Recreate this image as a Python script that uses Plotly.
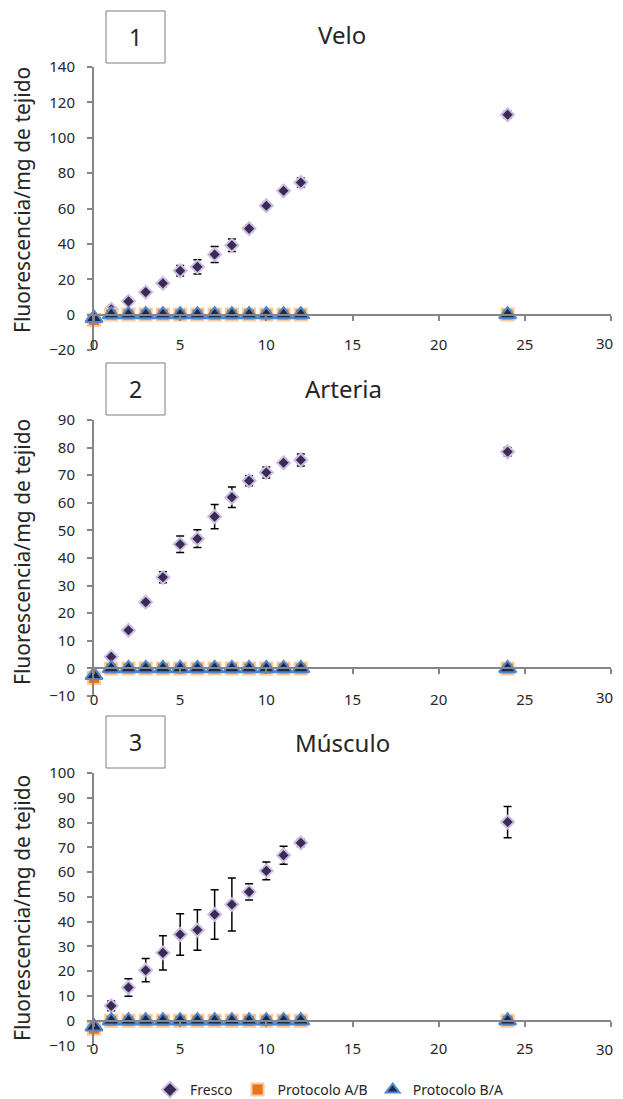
import plotly.graph_objects as go

# The page body has an 8px margin, so the figure is drawn 8px in from the top-left corner.
OFF = 8
W, H = 623 - OFF, 1099 - OFF

hours = [0, 1, 2, 3, 4, 5, 6, 7, 8, 9, 10, 11, 12, 24]

panel_titles = ["Velo", "Arteria", "Músculo"]
panel_numbers = ["1", "2", "3"]
series_names = ["Fresco", "Protocolo A/B", "Protocolo B/A"]
y_title = "Fluorescencia/mg de tejido"

# Panel 1 - Velo
velo_fresco = [-2, 3, 7.5, 12.7, 17.7, 24.8, 27, 34, 39.2, 48.6, 61.6, 70, 74.7, 113]
velo_fresco_err = [0.5, 1, 1, 1, 2, 3, 4, 4.5, 3.5, 2, 1.5, 1, 2.5, 2]
velo_ab = [-3, 0, 0, 0, 0, 0, 0, 0, 0, 0, 0, 0, 0, 0]
velo_ba = [-2, 0, 0, 0, 0, 0, 0, 0, 0, 0, 0, 0, 0, 0]

# Panel 2 - Arteria
arteria_fresco = [-2, 4.2, 13.8, 24, 33, 45, 47, 55, 62, 68, 71, 74.5, 75.5, 78.5]
arteria_fresco_err = [0.5, 0.5, 0.8, 1.2, 2, 3, 3.2, 4.4, 3.7, 1.8, 2, 1, 2.2, 1.5]
arteria_ab = [-3.5, 0, 0, 0, 0, 0, 0, 0, 0, 0, 0, 0, 0, 0]
arteria_ba = [-2.5, 0, 0, 0, 0, 0, 0, 0, 0, 0, 0, 0, 0, 0]

# Panel 3 - Músculo
musculo_fresco = [-2, 6, 13.4, 20.4, 27.4, 34.8, 36.6, 42.9, 46.9, 52, 60.5, 66.8, 71.8, 80.2]
musculo_fresco_err = [0.5, 2, 3.5, 4.7, 6.9, 8.4, 8.2, 10, 10.7, 3.3, 3.6, 3.6, 1.5, 6.3]
musculo_ab = [-3.2, 0, 0, 0, 0, 0, 0, 0, 0, 0, 0, 0, 0, 0]
musculo_ba = [-2.4, 0, 0, 0, 0, 0, 0, 0, 0, 0, 0, 0, 0, 0]

y_ranges = [[-20, 140], [-10, 90], [-10, 100]]
y_dticks = [20, 10, 10]
x_range = [0, 30]
x_tickvals = [0, 5, 10, 15, 20, 25, 30]
x_ticklabels = ["0", "5", "10", "15", "20", "25", "30"]

panels = [
    (velo_fresco, velo_fresco_err, velo_ab, velo_ba),
    (arteria_fresco, arteria_fresco_err, arteria_ab, arteria_ba),
    (musculo_fresco, musculo_fresco_err, musculo_ab, musculo_ba),
]

# window-pixel layout of the plot areas (left, right, top, bottom)
plot_px = [(94, 611, 67, 350), (94, 611, 420, 696), (94, 611, 773, 1045.5)]
title_px = [(342, 35), (343, 388), (342, 742)]
box_px = [(106, 165, 11, 63), (106, 165, 363, 415), (106, 165, 716, 768)]
ytitle_px = [(22, 200), (22, 552), (22, 908)]
xlabel_standoff = [11, 13, 9]
xlabel_center_px = [343, 697, 1049]
legend_px = (150, 1090)


def px_x(p):
    return (p - OFF) / W


def px_y(p):
    return 1 - (p - OFF) / H


FONT = "Noto Sans"
AXIS_COLOR = "#868686"
TEXT_COLOR = "#262626"

fig = go.Figure()

for i, (fr, fr_err, ab, ba) in enumerate(panels):
    xa = "x" if i == 0 else f"x{i+1}"
    ya = "y" if i == 0 else f"y{i+1}"
    show = i == 0
    fig.add_trace(go.Scatter(
        x=hours, y=fr, mode="markers", name=series_names[0], xaxis=xa, yaxis=ya,
        showlegend=show, legendgroup="f", cliponaxis=False,
        marker=dict(symbol="diamond", size=10, color="#3b2a55",
                    line=dict(color="#cdbfe2", width=2)),
        error_y=dict(type="data", array=fr_err, visible=True, color="black",
                     thickness=1.5, width=4),
    ))
    fig.add_trace(go.Scatter(
        x=hours, y=ab, mode="markers", name=series_names[1], xaxis=xa, yaxis=ya,
        showlegend=show, legendgroup="ab", cliponaxis=False,
        marker=dict(symbol="square", size=12, color="#e8731a",
                    line=dict(color="#f9c9a0", width=2)),
    ))
    fig.add_trace(go.Scatter(
        x=hours, y=ba, mode="markers", name=series_names[2], xaxis=xa, yaxis=ya,
        showlegend=show, legendgroup="ba", cliponaxis=False,
        marker=dict(symbol="triangle-up", size=15, color="#1b2a4a",
                    line=dict(color="#4f86cc", width=2)),
    ))

layout = dict(
    width=W, height=H,
    margin=dict(l=0, r=0, t=0, b=0, autoexpand=False),
    paper_bgcolor="white", plot_bgcolor="white",
    font=dict(family=FONT, color=TEXT_COLOR, size=14),
    showlegend=True,
    legend=dict(orientation="h", x=px_x(legend_px[0]), xanchor="left",
                y=px_y(legend_px[1]), yanchor="middle",
                font=dict(size=14, color=TEXT_COLOR), itemwidth=30, tracegroupgap=0,
                itemsizing="constant", bgcolor="rgba(0,0,0,0)"),
)

shapes = []
annotations = []
for i in range(3):
    l, r, t, b = plot_px[i]
    ymin, ymax = y_ranges[i]
    dom_y = [px_y(b), px_y(t)]
    zero_frac = (0 - ymin) / (ymax - ymin)
    xpos = dom_y[0] + zero_frac * (dom_y[1] - dom_y[0])
    sx = "" if i == 0 else str(i + 1)
    # last tick label would be cut by the page edge; it is drawn as an annotation kept inside
    ticktext = x_ticklabels[:-1] + [""]
    layout[f"xaxis{sx}"] = dict(
        domain=[px_x(l), px_x(r)], range=x_range,
        tickmode="array", tickvals=x_tickvals, ticktext=ticktext,
        anchor="free", position=xpos, showline=True, linecolor=AXIS_COLOR, linewidth=2,
        ticks="outside", ticklen=5, tickwidth=1.5, tickcolor=AXIS_COLOR,
        showgrid=False, zeroline=False, ticklabelstandoff=xlabel_standoff[i],
        automargin=False, ticklabeloverflow="allow",
        tickfont=dict(size=15, color=TEXT_COLOR), fixedrange=True,
    )
    layout[f"yaxis{sx}"] = dict(
        domain=dom_y, range=y_ranges[i], dtick=y_dticks[i], tick0=0,
        anchor=f"x{sx}", showline=True, linecolor=AXIS_COLOR, linewidth=2,
        ticks="outside", ticklen=5, tickwidth=1.5, tickcolor=AXIS_COLOR,
        showgrid=False, zeroline=False, ticklabelstandoff=9, automargin=False,
        ticklabeloverflow="allow",
        tickfont=dict(size=15, color=TEXT_COLOR), fixedrange=True,
    )
    annotations.append(dict(text=x_ticklabels[-1], x=x_tickvals[-1], xref=f"x{sx}",
                            y=px_y(xlabel_center_px[i]), yref="paper",
                            showarrow=False, xanchor="right", yanchor="middle", xshift=4,
                            font=dict(size=15, color=TEXT_COLOR)))
    # panel title
    tx, ty = title_px[i]
    annotations.append(dict(text=panel_titles[i], x=px_x(tx), y=px_y(ty), xref="paper", yref="paper",
                            showarrow=False, xanchor="center", yanchor="middle",
                            font=dict(size=24, color=TEXT_COLOR)))
    # number box
    bl, br, bt, bb = box_px[i]
    shapes.append(dict(type="rect", xref="paper", yref="paper",
                       x0=px_x(bl), x1=px_x(br), y0=px_y(bb), y1=px_y(bt),
                       line=dict(color="#7f7f7f", width=1), fillcolor="white"))
    annotations.append(dict(text=panel_numbers[i], x=px_x((bl + br) / 2), y=px_y((bt + bb) / 2),
                            xref="paper", yref="paper", showarrow=False,
                            xanchor="center", yanchor="middle",
                            font=dict(size=23, color=TEXT_COLOR)))
    # y title
    yx, yy = ytitle_px[i]
    annotations.append(dict(text=y_title, x=px_x(yx), y=px_y(yy), xref="paper", yref="paper",
                            showarrow=False, textangle=-90, xanchor="center", yanchor="middle",
                            font=dict(size=21, color=TEXT_COLOR)))

layout["shapes"] = shapes
layout["annotations"] = annotations
fig.update_layout(**layout)

fig.write_html("out.html")
